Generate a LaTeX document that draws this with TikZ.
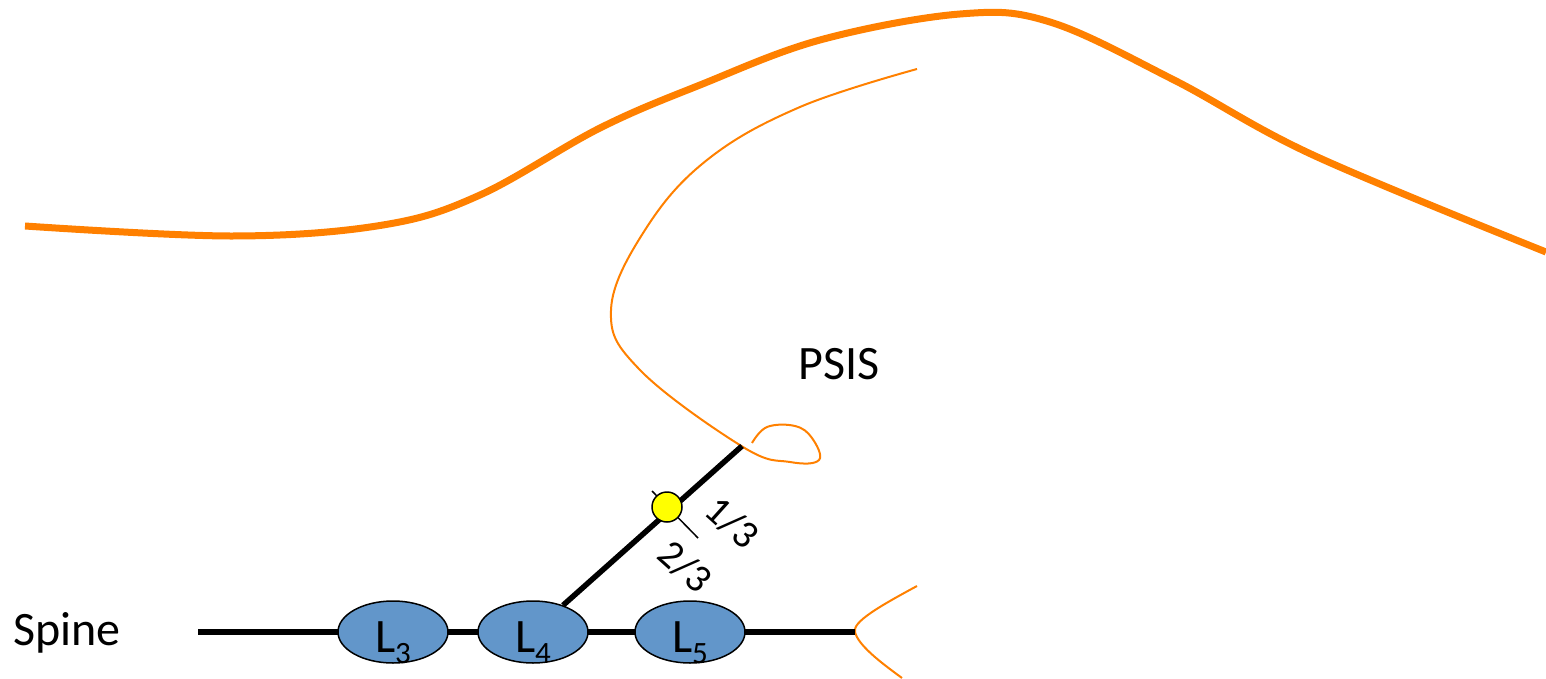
\documentclass[tikz,border=0pt]{standalone}
\usepackage{fontspec}
\setmainfont{Carlito}
\usetikzlibrary{shapes.geometric,calc}
\definecolor{bone}{RGB}{255,128,0}
\definecolor{disc}{RGB}{98,150,202}
\definecolor{dotyellow}{RGB}{255,255,0}
% subscript set lower and larger than the default
\newcommand{\vsub}[1]{\raisebox{-11pt}{\fontsize{31}{31}\selectfont #1}}
\begin{document}
\begin{tikzpicture}[x=1pt,y=-1pt,
  bigtext/.style={font=\fontsize{48}{58}\selectfont, inner sep=0pt},
  fractext/.style={font=\fontsize{40}{48}\selectfont, inner sep=0pt, rotate=-42},
  vertebra/.style={ellipse, draw=black, line width=1.5pt, fill=disc,
    minimum width=110pt, minimum height=62pt, inner sep=0pt},
  spineline/.style={draw=black, line width=5.5pt},
  pelvis/.style={draw=bone, line width=7pt},
  outline/.style={draw=bone, line width=2pt}]
\useasboundingbox (0,0) rectangle (1546,679);

% iliac crest
\draw[pelvis, line join=round] plot[smooth, tension=0.6] coordinates {
  (25,226) (233,236) (383,225) (480,195) (600,128) (700,85) (820,40)
  (960,14) (1050,22) (1174,80) (1313,155) (1546,252)};

% inner outline ending in the PSIS hook
\draw[outline] plot[smooth, tension=0.65] coordinates {
  (917,69) (800,107) (707,160) (645,230) (611,310) (640,370)
  (743,447) (790,462) (819,460) (812,438) (795,426) (767,427) (752,443)};

% sacrum edge
\draw[outline] (917,586) .. controls (880,606) and (852,622) .. (855,632)
  .. controls (858,645) and (880,662) .. (902,678);

% spine axis and vertebrae
\coordinate (spineL) at (198,632);
\coordinate (spineR) at (855,632);
\draw[spineline] (spineL) -- (spineR);
\node[vertebra] (L3) at (393,632) {};
\node[vertebra] (L4) at (533,632) {};
\node[vertebra] (L5) at (690,632) {};
\node[bigtext, anchor=base] (L3t) at ([yshift=-20pt]L3.center) {L\vsub{3}};
\node[bigtext, anchor=base] (L4t) at ([yshift=-20pt]L4.center) {L\vsub{4}};
\node[bigtext, anchor=base] (L5t) at ([yshift=-20pt]L5.center) {L\vsub{5}};

% line from L4 to the PSIS with the one-third point
\coordinate (psis) at (742,446);
\draw[spineline] (psis) -- (L4);
\coordinate (tickA) at (652,491);
\coordinate (tickB) at (698,538);
\draw[line width=1.5pt] (tickA) -- (tickB);
\node[circle, draw=black, line width=1.5pt, fill=dotyellow,
  minimum size=30pt, inner sep=0pt] (mid) at (667,507) {};

\node[fractext] (oneThird) at (732,523) {1/3};
\node[fractext] (twoThirds) at (685,567) {2/3};

\node[bigtext, anchor=base west] (psisLabel) at (798,379) {PSIS};
\node[bigtext, anchor=base west] (spineLabel) at (13,645) {Spine};
\end{tikzpicture}
\end{document}
